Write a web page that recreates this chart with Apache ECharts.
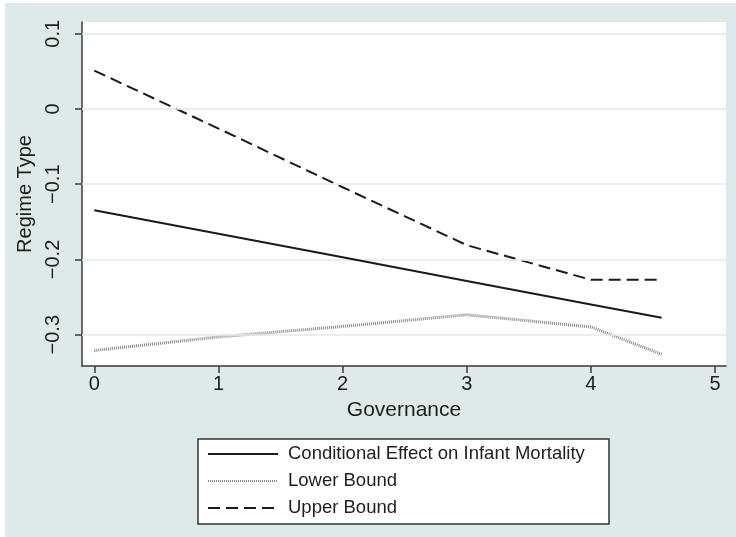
<!DOCTYPE html>
<html>
<head>
<meta charset="utf-8">
<script src="https://cdn.jsdelivr.net/npm/echarts@6/dist/echarts.min.js"></script>
<style>
  html, body { margin: 0; padding: 0; background: #ffffff; }
  #chart { width: 736px; height: 537px; }
</style>
</head>
<body>
<div id="chart"></div>
<script>
// Governance values at which the effect is evaluated
const governance = [0, 1, 2, 3, 4, 4.57];
// Conditional effect of regime type on infant mortality
const effect = [-0.1346, -0.1659, -0.1972, -0.2285, -0.2598, -0.2775];
// Confidence bounds
const lowerBound = [-0.321, -0.303, -0.289, -0.2735, -0.2897, -0.326];
const upperBound = [0.051, -0.026, -0.104, -0.181, -0.227, -0.227];

const xTicks = [0, 1, 2, 3, 4, 5];
const yTicks = [-0.3, -0.2, -0.1, 0, 0.1];

const seriesNames = ['Conditional Effect on Infant Mortality', 'Lower Bound', 'Upper Bound'];

const pairs = (ys) => governance.map((g, i) => [g, ys[i]]);
const fmt = (v) => (v < 0 ? '\u2212' + String(Math.abs(v)) : String(v));

const FONT = '"Liberation Sans", Arial, Helvetica, sans-serif';
const INK = '#1e1e1e';
const AXIS = '#3a3a3a';

const chart = echarts.init(document.getElementById('chart'), null, { renderer: 'canvas' });

chart.setOption({
  animation: false,
  backgroundColor: '#ffffff',
  textStyle: { fontFamily: FONT },
  graphic: [
    { type: 'rect', z: -10, shape: { x: 5, y: 3, width: 731, height: 534 },
      style: { fill: '#dee9ea' }, silent: true },
    { type: 'rect', z: 10, shape: { x: 198, y: 439, width: 411, height: 85 },
      style: { fill: '#ffffff', stroke: '#333333', lineWidth: 1.5 }, silent: true }
  ],
  grid: {
    left: 82, top: 22, right: 10, bottom: 171,
    show: true, backgroundColor: '#ffffff', borderWidth: 0
  },
  xAxis: {
    type: 'value',
    min: -0.099, max: 5.088,
    name: 'Governance',
    nameLocation: 'middle',
    nameGap: 34,
    nameTextStyle: { fontSize: 21, color: INK, fontFamily: FONT },
    axisLine: { show: true, onZero: false, lineStyle: { color: AXIS, width: 1.5 } },
    axisTick: { show: true, length: 7, customValues: xTicks, lineStyle: { color: AXIS, width: 1.5 } },
    axisLabel: { customValues: xTicks, fontSize: 20, color: INK, margin: 8, fontFamily: FONT, formatter: fmt },
    splitLine: { show: false }
  },
  yAxis: {
    type: 'value',
    min: -0.3416, max: 0.1156,
    name: 'Regime Type',
    nameLocation: 'middle',
    nameGap: 46,
    nameTextStyle: { fontSize: 20, color: INK, fontFamily: FONT },
    axisLine: { show: true, onZero: false, lineStyle: { color: AXIS, width: 1.5 } },
    axisTick: { show: true, length: 7, customValues: yTicks, lineStyle: { color: AXIS, width: 1.5 } },
    axisLabel: { customValues: yTicks, fontSize: 20, color: INK, margin: 19, rotate: 90, fontFamily: FONT, formatter: fmt },
    splitLine: { show: false }
  },
  legend: {
    data: seriesNames,
    orient: 'vertical',
    left: 207, top: 444,
    padding: 0,
    itemWidth: 70, itemHeight: 20, itemGap: 7,
    z: 20,
    itemStyle: { opacity: 0 },
    textStyle: { fontSize: 18.5, color: INK, fontFamily: FONT, lineHeight: 20, padding: [0, 0, 0, 5] }
  },
  series: [
    {
      name: 'grid',
      type: 'line',
      data: [],
      z: 1,
      silent: true,
      markLine: {
        silent: true,
        symbol: 'none',
        label: { show: false },
        lineStyle: { color: '#e0eaed', width: 1.5, type: 'solid' },
        data: yTicks.map(v => ({ yAxis: v }))
      }
    },
    {
      name: seriesNames[0],
      type: 'line',
      data: pairs(effect),
      symbol: 'none',
      z: 5,
      lineStyle: { color: '#1a1a1a', width: 2, type: 'solid' },
      itemStyle: { color: '#1a1a1a' }
    },
    {
      name: seriesNames[1],
      type: 'line',
      data: pairs(lowerBound),
      symbol: 'none',
      z: 4,
      lineStyle: { color: '#888888', width: 3, type: [1, 1] },
      itemStyle: { color: '#888888' }
    },
    {
      name: seriesNames[2],
      type: 'line',
      data: pairs(upperBound),
      symbol: 'none',
      z: 4,
      lineStyle: { color: '#1a1a1a', width: 2, type: [12, 6] },
      itemStyle: { color: '#1a1a1a' }
    }
  ]
});
</script>
</body>
</html>
